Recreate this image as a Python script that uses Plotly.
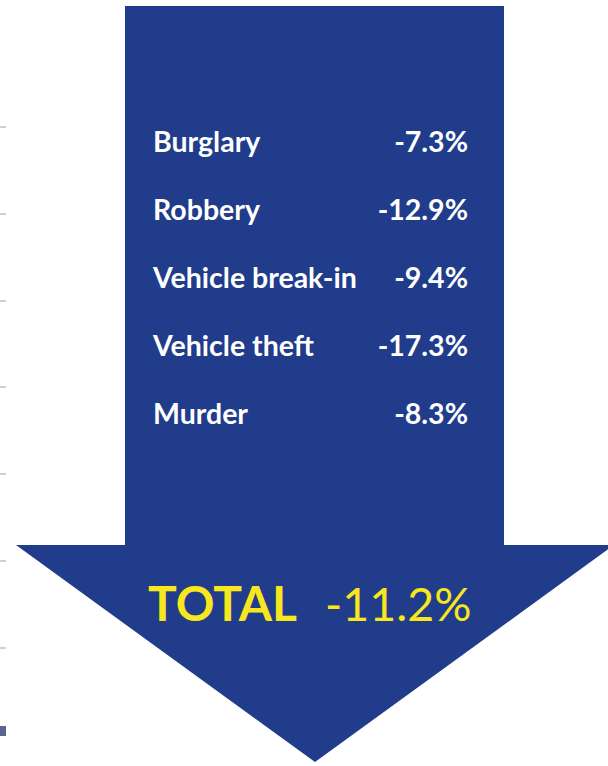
import plotly.graph_objects as go

# ---- data ----
categories = ["Burglary", "Robbery", "Vehicle break-in", "Vehicle theft", "Murder"]
changes = [-7.3, -12.9, -9.4, -17.3, -8.3]
total_label = "TOTAL"
total_change = -11.2

# ---- styling ----
W, H = 608, 766
BLUE = "#203c8a"
YELLOW = "#f7e71c"
FONT = "Lato"

fig = go.Figure()

# arrow shape (pixel coordinates on hidden axes)
arrow_path = "M125,6 L504,6 L504,545 L614,545 L315,762 L16,545 L125,545 Z"
fig.add_shape(type="path", path=arrow_path, xref="x", yref="y",
              fillcolor=BLUE, line=dict(width=0), layer="below")

# small legend-like square at left edge
fig.add_shape(type="rect", x0=0, x1=6, y0=726, y1=736, xref="x", yref="y",
              fillcolor="#5b6491", line=dict(width=0), layer="below")

# category labels
fig.add_trace(go.Scatter(
    x=[153] * len(categories), y=categories, yaxis="y2",
    mode="text", text=categories, textposition="middle right",
    textfont=dict(family=FONT, size=28.5, color="white", weight="bold"),
    hoverinfo="skip", showlegend=False))

# values
fig.add_trace(go.Scatter(
    x=[468] * len(categories), y=categories, yaxis="y2",
    mode="text", text=[f"{v:.1f}%" for v in changes], textposition="middle left",
    textfont=dict(family=FONT, size=28.5, color="white", weight="bold"),
    hoverinfo="skip", showlegend=False))

# total
fig.add_trace(go.Scatter(
    x=[297], y=[609], mode="text", text=[total_label], textposition="middle left",
    textfont=dict(family=FONT, size=48, color=YELLOW, weight="bold"),
    hoverinfo="skip", showlegend=False))
fig.add_trace(go.Scatter(
    x=[325], y=[609], mode="text", text=[f"{total_change:.1f}%"], textposition="middle right",
    textfont=dict(family=FONT, size=46.5, color=YELLOW, weight="normal"),
    hoverinfo="skip", showlegend=False))

tick_positions = [127.3 + 86.7 * i for i in range(7)]

top, bottom = 111, 451
fig.update_layout(
    width=W, height=H,
    margin=dict(l=0, r=0, t=0, b=0),
    paper_bgcolor="white", plot_bgcolor="rgba(0,0,0,0)",
    xaxis=dict(range=[0, W], visible=False, fixedrange=True),
    yaxis=dict(range=[H, 0], showgrid=False, zeroline=False, showline=False,
               showticklabels=False, ticks="inside", ticklen=6, tickwidth=2,
               tickcolor="#d0d0d0", tickvals=tick_positions, fixedrange=True),
    yaxis2=dict(type="category", categoryorder="array", categoryarray=categories,
                range=[len(categories) - 0.5, -0.5], anchor="x",
                domain=[1 - bottom / H, 1 - top / H], visible=False, fixedrange=True),
    showlegend=False,
)

fig.write_html("out.html", config={"displayModeBar": False},
               post_script="document.body.style.margin='0';")
